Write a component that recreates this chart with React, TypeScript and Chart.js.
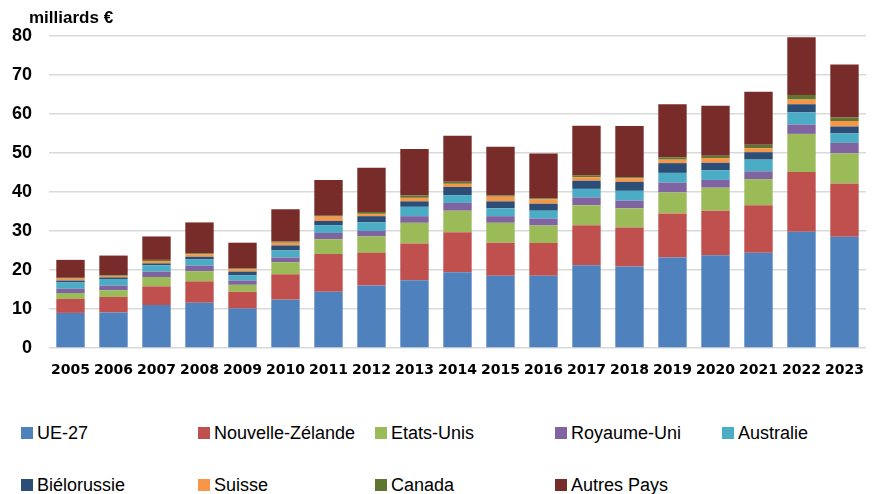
import React, { useEffect, useRef } from "react";
import { Chart, registerables } from "chart.js";

Chart.register(...registerables);

const years = ["2005","2006","2007","2008","2009","2010","2011","2012","2013","2014","2015","2016","2017","2018","2019","2020","2021","2022","2023"];

const ue27 =      [9.0, 9.1, 11.0, 11.6, 10.1, 12.4, 14.4, 16.0, 17.4, 19.4, 18.5, 18.5, 21.2, 20.9, 23.2, 23.8, 24.4, 29.8, 28.5];
const nz =        [3.6, 4.0, 4.8, 5.5, 4.3, 6.5, 9.7, 8.4, 9.4, 10.3, 8.5, 8.4, 10.3, 10.0, 11.3, 11.4, 12.2, 15.3, 13.7];
const usa =       [1.5, 1.7, 2.4, 2.6, 1.8, 3.1, 3.8, 4.2, 5.3, 5.5, 5.1, 4.5, 5.1, 4.9, 5.4, 5.9, 6.7, 9.8, 7.7];
const uk =        [1.1, 1.2, 1.4, 1.4, 1.1, 1.2, 1.6, 1.4, 1.7, 2.0, 1.7, 1.8, 2.0, 2.0, 2.5, 2.0, 2.0, 2.4, 2.7];
const australia = [1.6, 1.7, 1.6, 1.6, 1.3, 1.8, 2.0, 2.2, 2.4, 2.0, 2.0, 2.0, 2.2, 2.5, 2.5, 2.5, 3.0, 3.1, 2.4];
const belarus =   [0.5, 0.4, 0.5, 0.7, 1.0, 1.3, 1.1, 1.6, 1.4, 2.1, 1.8, 1.8, 2.1, 2.3, 2.5, 1.9, 1.9, 2.1, 1.8];
const suisse =    [0.5, 0.4, 0.6, 0.6, 0.6, 0.7, 1.1, 0.6, 0.9, 0.8, 1.2, 1.1, 0.9, 0.9, 0.9, 1.2, 1.0, 1.2, 1.4];
const canada =    [0.2, 0.2, 0.3, 0.3, 0.2, 0.3, 0.2, 0.5, 0.6, 0.5, 0.3, 0.3, 0.5, 0.3, 0.6, 0.6, 0.9, 1.2, 0.9];
const autres =    [4.6, 5.0, 6.0, 7.9, 6.6, 8.3, 9.2, 11.3, 11.9, 11.8, 12.5, 11.5, 12.7, 13.1, 13.6, 12.8, 13.6, 14.8, 13.6];

const seriesNames = ["UE-27","Nouvelle-Zélande","Etats-Unis","Royaume-Uni","Australie","Biélorussie","Suisse","Canada","Autres Pays"];
const seriesColors = ["#4F81BD","#C0504D","#9BBB59","#8064A2","#4BACC6","#2C4D75","#F79646","#5F7530","#772C2A"];
const seriesData = [ue27, nz, usa, uk, australia, belarus, suisse, canada, autres];

const yTicks = [0, 10, 20, 30, 40, 50, 60, 70, 80];

const legendPos = [
  [21, 433], [198, 433], [375, 433], [555, 433], [722, 433],
  [21, 485], [198, 485], [375, 485], [555, 485],
];

export default function App() {
  const ref = useRef<HTMLCanvasElement | null>(null);
  useEffect(() => {
    if (!ref.current) return;
    const chart = new Chart(ref.current, {
      type: "bar",
      data: {
        labels: years,
        datasets: seriesNames.map((n, i) => ({
          label: n,
          data: seriesData[i],
          backgroundColor: seriesColors[i],
          borderWidth: 0,
          barPercentage: 0.66,
          categoryPercentage: 1,
        })),
      },
      options: {
        responsive: false,
        animation: false,
        layout: { padding: { top: 36, right: 1, left: 0, bottom: 0 } },
        plugins: { legend: { display: false }, tooltip: { enabled: false } },
        scales: {
          x: {
            stacked: true,
            grid: { display: false, drawTicks: false },
            border: { display: false },
            ticks: {
              color: "#000",
              font: { family: "DejaVu Sans", weight: "bold", size: 14 },
              padding: 14,
              maxRotation: 0,
              autoSkip: false,
            },
            afterFit: (s: any) => { s.height = 52; },
          },
          y: {
            stacked: true,
            min: 0,
            max: 80,
            afterBuildTicks: (s: any) => { s.ticks = yTicks.map((v) => ({ value: v })); },
            grid: { color: "#d9d9d9", lineWidth: 1.5, drawTicks: false },
            border: { display: false },
            ticks: {
              color: "#000",
              font: { family: "Liberation Sans", weight: "bold", size: 18 },
              padding: 17,
            },
            afterFit: (s: any) => { s.width = 49; },
          },
        },
      },
    });
    return () => chart.destroy();
  }, []);

  return (
    <div style={{ position: "absolute", left: 0, top: 0, width: 878, height: 494, background: "#fff", fontFamily: "Liberation Sans" }}>
      <canvas ref={ref} width={878} height={400} style={{ position: "absolute", left: 0, top: 0 }} />
      <div style={{ position: "absolute", left: 29, top: 8, fontWeight: "bold", fontSize: 17, color: "#000", lineHeight: "20px" }}>milliards €</div>
      {seriesNames.map((n, i) => (
        <div key={n} style={{ position: "absolute", left: legendPos[i][0], top: legendPos[i][1] - 10, height: 20, display: "flex", alignItems: "center", whiteSpace: "nowrap" }}>
          <span style={{ display: "inline-block", width: 12, height: 12, background: seriesColors[i], marginRight: 4 }} />
          <span style={{ fontSize: 18, color: "#000" }}>{n}</span>
        </div>
      ))}
    </div>
  );
}
